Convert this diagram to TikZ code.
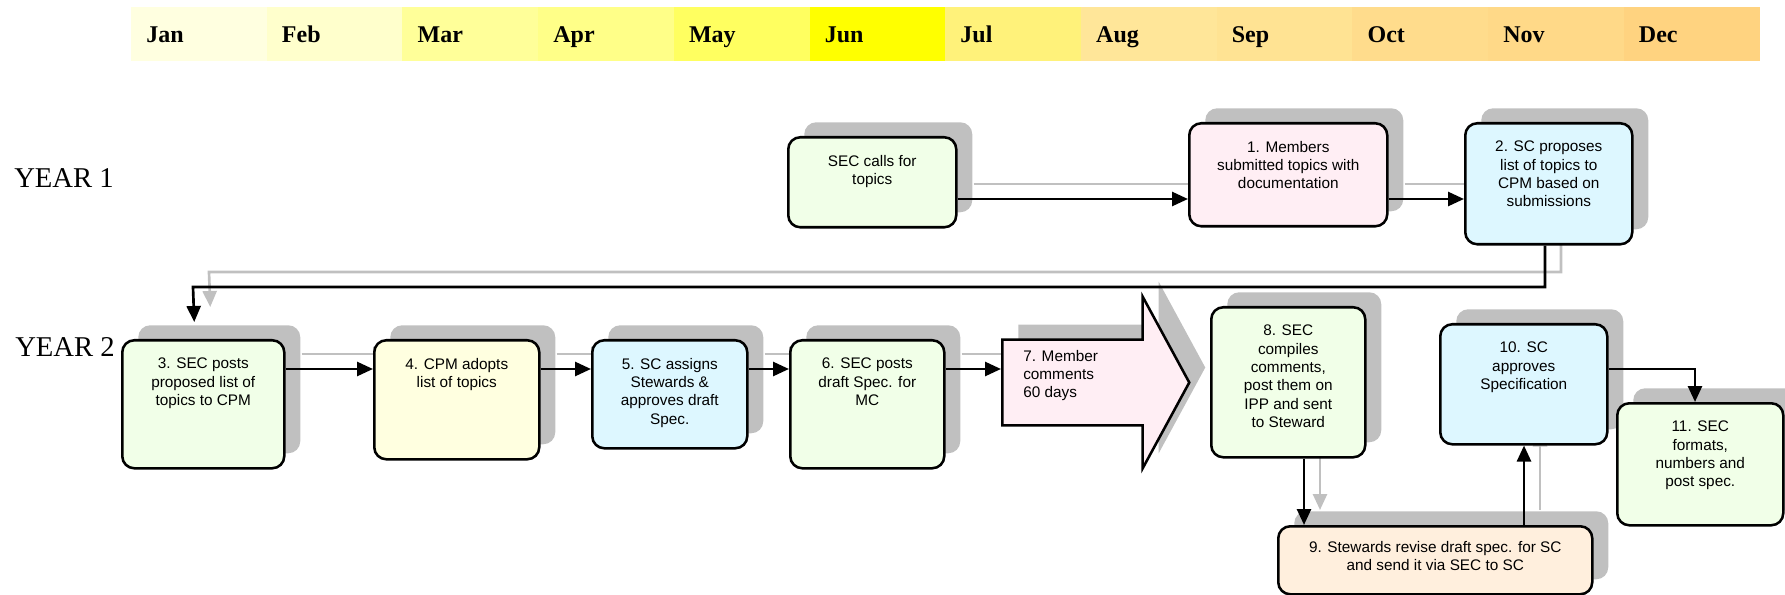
\documentclass[tikz,border=0pt]{standalone}
\usepackage{fontspec}
\setmainfont{Liberation Sans}
\newfontfamily\timesfont{Liberation Serif}
\usetikzlibrary{positioning,arrows.meta,shapes.arrows,shadows,backgrounds}

\definecolor{shadegray}{HTML}{C0C0C0}
\definecolor{cgreen}{HTML}{F1FFE8}
\definecolor{cpink}{HTML}{FFEEF4}
\definecolor{ccyan}{HTML}{DDF7FF}
\definecolor{cyellow}{HTML}{FFFFE0}
\definecolor{cpeach}{HTML}{FFEFDD}
% month bar
\definecolor{mJan}{HTML}{FFFFE0}
\definecolor{mFeb}{HTML}{FFFFCC}
\definecolor{mMar}{HTML}{FFFF99}
\definecolor{mApr}{HTML}{FFFF88}
\definecolor{mMay}{HTML}{FFFF60}
\definecolor{mJun}{HTML}{FFFF00}
\definecolor{mJul}{HTML}{FFF27A}
\definecolor{mAug}{HTML}{FFE699}
\definecolor{mSep}{HTML}{FFE393}
\definecolor{mOct}{HTML}{FFDC8C}
\definecolor{mNov}{HTML}{FFD988}
\definecolor{mDec}{HTML}{FFD380}

\tikzset{
  stepbox/.style={draw, line width=1.9pt, rounded corners=9pt, anchor=north west, inner sep=0pt,
    drop shadow={shadow xshift=12pt, shadow yshift=11.25pt, opacity=1, fill=shadegray}},
  boxsize/.style 2 args={minimum width=#1*0.75pt, minimum height=#2*0.75pt},
  steptext/.style={align=center, inner sep=0pt, font=\fontsize{11.5}{13.8}\selectfont},
  link/.style={line width=2pt, -{Triangle[length=12pt,width=10.5pt]}},
  linkshade/.style={link, draw=shadegray, transform canvas={xshift=12pt,yshift=11.25pt}},
  monthlbl/.style={anchor=base west, inner sep=0pt, font=\timesfont\bfseries\fontsize{18}{20}\selectfont},
  yearlbl/.style={anchor=west, inner sep=0pt, font=\timesfont\fontsize{21.5}{24}\selectfont},
}

\begin{document}
\begin{tikzpicture}[x=0.75pt,y=-0.75pt]
\useasboundingbox (0,0) rectangle (1785,595);

% months
\foreach \m [count=\i from 0] in {Jan,Feb,Mar,Apr,May,Jun,Jul,Aug,Sep,Oct,Nov,Dec}{
  \fill[m\m] (131+\i*135.7,7) rectangle (131.5+\i*135.7+135.7,61);
  \node[monthlbl] (l\m) at (146+\i*135.7,43) {\m};
}

\node[yearlbl] (year1) at (14,178) {YEAR 1};
\node[yearlbl] (year2) at (15,347) {YEAR 2};

% year 1
\node[stepbox, fill=cgreen, boxsize={168}{90}] (sa) at (787,136) {};
\node[steptext, below=14pt of sa.north] (tsa) {SEC calls for\\topics};

\node[stepbox, fill=cpink, boxsize={198}{103}] (m1) at (1188,122) {};
\node[steptext, below=14pt of m1.north] (t1) {1. Members\\submitted topics with\\documentation};

\node[stepbox, fill=ccyan, boxsize={167}{121}] (m2) at (1464,122) {};
\node[steptext, below=14pt of m2.north] (t2) {2. SC proposes\\list of topics to\\CPM based on\\submissions};

% year 2
\node[stepbox, fill=cgreen, boxsize={162}{128}] (m3) at (121,339) {};
\node[steptext, below=14pt of m3.north] (t3) {3. SEC posts\\proposed list of\\topics to CPM};

\node[stepbox, fill=cyellow, boxsize={165}{119}] (m4) at (373,339) {};
\node[steptext, below=14pt of m4.north] (t4) {4. CPM adopts\\list of topics};

\node[stepbox, fill=ccyan, boxsize={155}{108}] (m5) at (591,339) {};
\node[steptext, below=14pt of m5.north] (t5) {5. SC assigns\\Stewards \&\\approves draft\\Spec.};

\node[stepbox, fill=cgreen, boxsize={154}{128}] (m6) at (789,339) {};
\node[steptext, below=14pt of m6.north] (t6) {6. SEC posts\\draft Spec. for\\MC};

\node[draw, line width=1.9pt, fill=cpink, single arrow, anchor=tail,
  single arrow head extend=43*0.75pt, single arrow head indent=0pt,
  single arrow tip angle=123, minimum height=187*0.75pt,
  inner xsep=0pt, inner ysep=41.5*0.75pt,
  drop shadow={shadow xshift=12pt, shadow yshift=11.25pt, opacity=1, fill=shadegray}] (m7) at (1001,382.5) {};
\node[steptext, align=left, anchor=west] (t7) at ([shift={(22,-7)}]m7.tail) {7. Member\\comments\\60 days};

\node[stepbox, fill=cgreen, boxsize={154}{150}] (m8) at (1210,306) {};
\node[steptext, below=14pt of m8.north] (t8) {8. SEC\\compiles\\comments,\\post them on\\IPP and sent\\to Steward};

\node[stepbox, fill=cpeach, boxsize={314}{68}] (m9) at (1277,525) {};
\node[steptext, below=12pt of m9.north] (t9) {9. Stewards revise draft spec. for SC\\and send it via SEC to SC};

\node[stepbox, fill=ccyan, boxsize={167}{120}] (m10) at (1439,323) {};
\node[steptext, below=14pt of m10.north] (t10) {10. SC\\approves\\Specification};

\node[stepbox, fill=cgreen, boxsize={166}{122}] (m11) at (1616,402) {};
\node[steptext, below=14pt of m11.north] (t11) {11. SEC\\formats,\\numbers and\\post spec.};

% connector shadows
\begin{scope}[on background layer]
\draw[linkshade] (sa.east |- 0,199) -- (m1.west |- 0,199);
\draw[linkshade] (m1.east |- 0,199) -- (m2.west |- 0,199);
\draw[linkshade] (m2.south -| 1545,0) |- (193,287) -- ([shift={(-9,-17)}]m3.north);
\draw[linkshade] (m3.east |- 0,369) -- (m4.west |- 0,369);
\draw[linkshade] (m4.east |- 0,369) -- (m5.west |- 0,369);
\draw[linkshade] (m5.east |- 0,369) -- (m6.west |- 0,369);
\draw[linkshade] (m6.east |- 0,369) -- (m7.tail |- 0,369);
\draw[linkshade] (m8.south -| 1304,0) -- (m9.north -| 1304,0);
\draw[linkshade] (m9.north -| 1524,0) -- (m10.south -| 1524,0);
\end{scope}

% connectors
\draw[link] (sa.east |- 0,199) -- (m1.west |- 0,199);
\draw[link] (m1.east |- 0,199) -- (m2.west |- 0,199);
\draw[link] (m2.south -| 1545,0) |- (193,287) -- ([shift={(-9,-17)}]m3.north);
\draw[link] (m3.east |- 0,369) -- (m4.west |- 0,369);
\draw[link] (m4.east |- 0,369) -- (m5.west |- 0,369);
\draw[link] (m5.east |- 0,369) -- (m6.west |- 0,369);
\draw[link] (m6.east |- 0,369) -- (m7.tail |- 0,369);
\draw[link] (m8.south -| 1304,0) -- (m9.north -| 1304,0);
\draw[link] (m9.north -| 1524,0) -- (m10.south -| 1524,0);
\draw[link] (m10.east |- 0,369) -| (m11.north -| 1695,0);
\end{tikzpicture}
\end{document}
